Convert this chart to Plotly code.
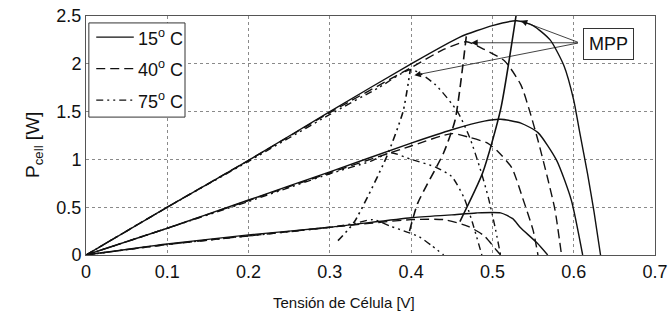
import plotly.graph_objects as go

# ---- data (V in volts, P in watts) ----
# 15 °C (solid)
v15_hi = [0, 0.1, 0.2, 0.3, 0.4, 0.46, 0.5, 0.53, 0.55, 0.571, 0.588, 0.6, 0.607, 0.617, 0.625, 0.633]
p15_hi = [0, 0.50, 0.99, 1.50, 2.00, 2.28, 2.40, 2.45, 2.40, 2.25, 1.98, 1.62, 1.30, 0.85, 0.45, 0]
v15_mid = [0, 0.1, 0.2, 0.3, 0.4, 0.45, 0.49, 0.51, 0.535, 0.556, 0.579, 0.597, 0.611]
p15_mid = [0, 0.28, 0.575, 0.87, 1.17, 1.31, 1.40, 1.42, 1.38, 1.28, 0.99, 0.575, 0]
v15_lo = [0, 0.1, 0.2, 0.3, 0.4, 0.45, 0.48, 0.51, 0.525, 0.534, 0.555, 0.568]
p15_lo = [0, 0.115, 0.21, 0.29, 0.39, 0.42, 0.44, 0.44, 0.38, 0.29, 0.125, 0]
v15_mpp = [0.46, 0.488, 0.51, 0.529]
p15_mpp = [0.35, 0.86, 1.52, 2.50]

# 40 °C (dashed)
v40_hi = [0, 0.1, 0.2, 0.3, 0.4, 0.44, 0.468, 0.49, 0.515, 0.535, 0.546, 0.556, 0.568, 0.577, 0.585]
p40_hi = [0, 0.50, 0.99, 1.49, 1.96, 2.15, 2.23, 2.15, 2.03, 1.78, 1.50, 1.20, 0.80, 0.47, 0]
v40_mid = [0, 0.1, 0.2, 0.3, 0.4, 0.45, 0.472, 0.494, 0.507, 0.524, 0.537, 0.55, 0.556]
p40_mid = [0, 0.28, 0.57, 0.86, 1.14, 1.27, 1.23, 1.17, 1.08, 0.91, 0.60, 0.26, 0]
v40_lo = [0, 0.1, 0.2, 0.3, 0.4, 0.44, 0.47, 0.49, 0.505, 0.51]
p40_lo = [0, 0.11, 0.20, 0.29, 0.37, 0.37, 0.30, 0.20, 0.05, 0]
v40_mpp = [0.398, 0.408, 0.44, 0.454, 0.468]
p40_mpp = [0.25, 0.54, 1.07, 1.41, 2.30]

# 75 °C (dash-dot-dot)
v75_hi = [0, 0.1, 0.2, 0.3, 0.36, 0.40, 0.43, 0.457, 0.472, 0.485, 0.495, 0.503, 0.51]
p75_hi = [0, 0.50, 0.98, 1.47, 1.75, 1.94, 1.78, 1.50, 1.23, 0.90, 0.60, 0.30, 0]
v75_mid = [0, 0.1, 0.2, 0.3, 0.35, 0.375, 0.4, 0.43, 0.45, 0.465, 0.475, 0.487]
p75_mid = [0, 0.28, 0.56, 0.85, 0.98, 1.07, 1.00, 0.92, 0.82, 0.60, 0.35, 0]
v75_lo = [0, 0.1, 0.2, 0.3, 0.33, 0.353, 0.375, 0.395, 0.41, 0.425, 0.44]
p75_lo = [0, 0.11, 0.20, 0.29, 0.33, 0.37, 0.30, 0.24, 0.19, 0.10, 0]
v75_mpp = [0.31, 0.33, 0.37, 0.39, 0.399]
p75_mpp = [0.15, 0.345, 1.03, 1.50, 1.94]

x_ticks = [0, 0.1, 0.2, 0.3, 0.4, 0.5, 0.6, 0.7]
x_tick_labels = ["0", "0.1", "0.2", "0.3", "0.4", "0.5", "0.6", "0.7"]
y_ticks = [0, 0.5, 1, 1.5, 2, 2.5]
y_tick_labels = ["0", "0.5", "1", "1.5", "2", "2.5"]

legend_labels = ["15<sup>o</sup> C", "40<sup>o</sup> C", "75<sup>o</sup> C"]
mpp_label = "MPP"
mpp_targets_v = [0.535, 0.474, 0.404]
mpp_targets_p = [2.45, 2.22, 1.88]
mpp_tail_v = 0.607
mpp_tail_p = 2.22

# ---- styling ----
FONT = "Liberation Sans, Arial, sans-serif"
INK = "#111111"
DASH40 = "9px,5px"
DASH75 = "7px,4px,2px,4px,2px,4px"

fig = go.Figure()

def add(v, p, dash, width=1.4, shape="spline"):
    fig.add_trace(go.Scatter(x=v, y=p, mode="lines", showlegend=False, hoverinfo="skip",
                             line=dict(color=INK, width=width, dash=dash,
                                       shape=shape, smoothing=0.6)))

for v, p in [(v15_hi, p15_hi), (v15_mid, p15_mid), (v15_lo, p15_lo)]:
    add(v, p, "solid")
add(v15_mpp, p15_mpp, "solid", 1.6)
for v, p in [(v40_hi, p40_hi), (v40_mid, p40_mid), (v40_lo, p40_lo)]:
    add(v, p, DASH40)
add(v40_mpp, p40_mpp, DASH40, 1.6)
for v, p in [(v75_hi, p75_hi), (v75_mid, p75_mid), (v75_lo, p75_lo)]:
    add(v, p, DASH75)
add(v75_mpp, p75_mpp, DASH75, 1.6)

# MPP arrows
for tv, tp in zip(mpp_targets_v, mpp_targets_p):
    fig.add_annotation(x=tv, y=tp, ax=mpp_tail_v, ay=mpp_tail_p, xref="x", yref="y",
                       axref="x", ayref="y", text="", showarrow=True,
                       arrowhead=2, arrowsize=1.6, arrowwidth=0.8, arrowcolor=INK)
fig.add_annotation(x=0.643, y=2.21, xref="x", yref="y", text=mpp_label, showarrow=False,
                   font=dict(family=FONT, size=18, color=INK),
                   bordercolor="#333", borderwidth=1, borderpad=5, bgcolor="white")

# manual legend (box, line samples, labels)
lx0, lx1 = 0.005, 0.174
ly_top, ly_bot = 0.971, 0.577
fig.add_shape(type="rect", xref="paper", yref="paper", x0=lx0, x1=lx1, y0=ly_bot, y1=ly_top,
              line=dict(color="#333", width=1), fillcolor="white", layer="above")
rows = [0.912, 0.78, 0.648]
for lab, yy, dash in zip(legend_labels, rows, ["solid", DASH40, DASH75]):
    fig.add_shape(type="line", xref="paper", yref="paper", x0=0.018, x1=0.084, y0=yy, y1=yy,
                  line=dict(color=INK, width=1.3, dash=dash), layer="above")
    fig.add_annotation(xref="paper", yref="paper", x=0.087, y=yy, xanchor="left",
                       yanchor="middle", text=lab, showarrow=False,
                       font=dict(family=FONT, size=18, color=INK))

# axis titles as annotations for exact placement
fig.add_annotation(xref="paper", yref="paper", x=0.453, y=-0.197, yanchor="middle",
                   text="Tensión de Célula [V]", showarrow=False,
                   font=dict(family=FONT, size=15, color=INK))
fig.add_annotation(xref="paper", yref="paper", x=-0.116, y=0.46, textangle=-90,
                   text="P<sub>cell</sub> [W]", showarrow=False,
                   font=dict(family=FONT, size=19, color=INK))

axis_common = dict(showgrid=True, gridcolor="#8a8a8a", griddash="dot", gridwidth=1,
                   showline=True, linecolor="#555", linewidth=1, mirror=True,
                   zeroline=False, ticks="", automargin=False, ticklabeloverflow="allow",
                   tickfont=dict(family=FONT, size=18, color=INK))

fig.update_layout(
    width=671, height=316,
    margin=dict(l=86, r=16, t=16, b=61, autoexpand=False),
    paper_bgcolor="white", plot_bgcolor="white",
    font=dict(family=FONT, color=INK),
    hovermode=False,
    xaxis=dict(range=[0, 0.7], tickvals=x_ticks, ticktext=x_tick_labels, **axis_common),
    yaxis=dict(range=[0, 2.5], tickvals=y_ticks, ticktext=y_tick_labels, **axis_common),
)

# remove the page's default 8px body margin so the figure sits at the window origin
fig.write_html("out.html", config={"displayModeBar": False, "staticPlot": True},
               post_script="document.body.style.margin='0px';document.body.style.overflow='hidden';")
